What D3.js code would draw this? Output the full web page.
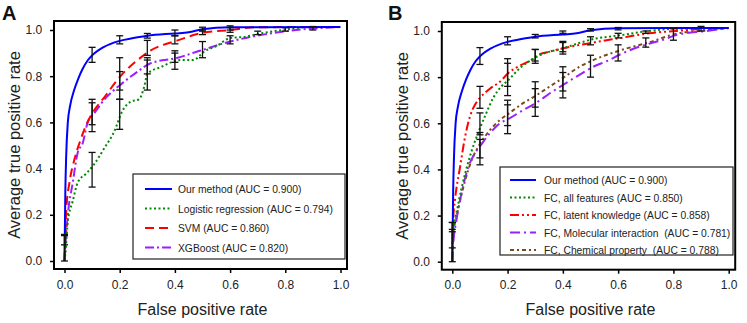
<!DOCTYPE html>
<html>
<head>
<meta charset="utf-8">
<script src="https://cdn.jsdelivr.net/npm/d3@7"></script>
<style>
  body { margin: 0; background: #fff; }
  text { font-family: "Liberation Sans", Arial, sans-serif; }
</style>
</head>
<body>
<div id="chart"></div>
<script>
// ---- data ----
var xTicks = [0, 0.2, 0.4, 0.6, 0.8, 1.0];
var yTicks = [0, 0.2, 0.4, 0.6, 0.8, 1.0];

// shared "Our method" curve
var ourX = [0, 0.003, 0.006, 0.012, 0.02, 0.035, 0.05, 0.065, 0.085, 0.1, 0.14, 0.2, 0.25, 0.3, 0.4, 0.45, 0.5, 0.6, 1.0];
var ourY = [0, 0.3, 0.45, 0.6, 0.67, 0.74, 0.79, 0.83, 0.87, 0.89, 0.925, 0.953, 0.965, 0.975, 0.985, 0.99, 1.003, 1.012, 1.013];

// panel A
var lrX = [0, 0.003, 0.012, 0.03, 0.048, 0.08, 0.108, 0.145, 0.18, 0.21, 0.24, 0.27, 0.29, 0.3, 0.35, 0.42, 0.466, 0.51, 0.55, 0.6, 0.65, 0.71, 0.79, 0.9, 1.0];
var lrY = [0, 0.03, 0.17, 0.26, 0.34, 0.38, 0.42, 0.49, 0.56, 0.65, 0.69, 0.70, 0.76, 0.81, 0.84, 0.87, 0.87, 0.91, 0.93, 0.965, 0.97, 0.985, 1.0, 1.013, 1.013];
var svmX = [0, 0.003, 0.007, 0.018, 0.036, 0.054, 0.072, 0.096, 0.145, 0.21, 0.265, 0.31, 0.41, 0.49, 0.6, 0.7, 1.0];
var svmY = [0, 0.12, 0.23, 0.34, 0.44, 0.51, 0.57, 0.63, 0.71, 0.81, 0.87, 0.91, 0.955, 0.985, 1.0, 1.012, 1.013];
var xgbX = [0, 0.005, 0.012, 0.03, 0.048, 0.066, 0.084, 0.108, 0.145, 0.21, 0.265, 0.31, 0.41, 0.49, 0.6, 0.72, 0.84, 1.0];
var xgbY = [0, 0.1, 0.2, 0.34, 0.47, 0.51, 0.6, 0.64, 0.70, 0.77, 0.82, 0.855, 0.88, 0.91, 0.95, 0.98, 1.0, 1.013];

// panel B
var allX = [0, 0.003, 0.02, 0.046, 0.07, 0.094, 0.118, 0.148, 0.178, 0.205, 0.245, 0.28, 0.317, 0.4, 0.51, 0.61, 0.71, 0.81, 1.0];
var allY = [0, 0.12, 0.24, 0.38, 0.48, 0.56, 0.63, 0.71, 0.76, 0.79, 0.84, 0.87, 0.895, 0.925, 0.965, 0.982, 1.0, 1.01, 1.013];
var latX = [0, 0.003, 0.01, 0.028, 0.046, 0.064, 0.082, 0.1, 0.136, 0.172, 0.205, 0.245, 0.28, 0.317, 0.35, 0.4, 0.51, 0.61, 0.71, 0.81, 0.92, 1.0];
var latY = [0, 0.18, 0.27, 0.41, 0.54, 0.63, 0.68, 0.71, 0.75, 0.78, 0.82, 0.85, 0.87, 0.90, 0.91, 0.925, 0.95, 0.97, 0.99, 1.0, 1.01, 1.013];
var molX = [0, 0.003, 0.015, 0.034, 0.058, 0.082, 0.106, 0.136, 0.172, 0.205, 0.256, 0.305, 0.353, 0.4, 0.46, 0.51, 0.56, 0.61, 0.66, 0.71, 0.77, 0.81, 0.92, 1.0];
var molY = [0, 0.07, 0.18, 0.30, 0.41, 0.47, 0.51, 0.557, 0.60, 0.62, 0.657, 0.69, 0.73, 0.766, 0.81, 0.845, 0.87, 0.90, 0.925, 0.944, 0.965, 0.983, 1.0, 1.013];
var chemX = [0, 0.003, 0.02, 0.046, 0.07, 0.1, 0.136, 0.172, 0.205, 0.256, 0.305, 0.353, 0.4, 0.46, 0.51, 0.61, 0.71, 0.81, 0.92, 1.0];
var chemY = [0, 0.11, 0.22, 0.35, 0.44, 0.51, 0.57, 0.614, 0.643, 0.687, 0.722, 0.76, 0.796, 0.845, 0.874, 0.917, 0.95, 0.988, 1.003, 1.013];

// error bars: [x, low, high]
var errA = [
  [0, 0, 0.11], [0, 0.07, 0.115],
  [0.1, 0.86, 0.925], [0.1, 0.59, 0.70], [0.1, 0.56, 0.685], [0.1, 0.32, 0.47],
  [0.2, 0.94, 0.975], [0.2, 0.74, 0.88], [0.2, 0.70, 0.82], [0.2, 0.57, 0.70],
  [0.3, 0.965, 0.985], [0.3, 0.89, 0.955], [0.3, 0.81, 0.88], [0.3, 0.74, 0.87],
  [0.4, 0.975, 1.0], [0.4, 0.94, 0.975], [0.4, 0.86, 0.91], [0.4, 0.83, 0.90],
  [0.5, 0.995, 1.012], [0.5, 0.98, 1.0], [0.5, 0.88, 0.95],
  [0.6, 1.0, 1.018], [0.6, 0.99, 1.01], [0.6, 0.94, 0.975],
  [0.7, 0.98, 0.995], [0.8, 0.995, 1.01], [0.9, 1.0, 1.015]
];
var errB = [
  [0, 0, 0.17], [0, 0.06, 0.14], [0, 0.13, 0.17],
  [0.1, 0.855, 0.928], [0.1, 0.665, 0.76], [0.1, 0.55, 0.645], [0.1, 0.45, 0.56], [0.1, 0.42, 0.53],
  [0.2, 0.94, 0.975], [0.2, 0.76, 0.88], [0.2, 0.72, 0.86], [0.2, 0.59, 0.70], [0.2, 0.555, 0.68],
  [0.3, 0.97, 0.985], [0.3, 0.87, 0.92], [0.3, 0.86, 0.92], [0.3, 0.67, 0.78], [0.3, 0.63, 0.75],
  [0.4, 0.99, 1.0], [0.4, 0.91, 0.955], [0.4, 0.90, 0.95], [0.4, 0.74, 0.845], [0.4, 0.71, 0.82],
  [0.5, 1.0, 1.01], [0.5, 0.94, 0.975], [0.5, 0.80, 0.895],
  [0.6, 1.005, 1.015], [0.6, 0.97, 0.99], [0.6, 0.87, 0.94],
  [0.7, 0.93, 0.97], [0.7, 0.99, 1.0], [0.8, 0.96, 1.01], [0.9, 1.0, 1.02]
];

var legendA = ["Our method (AUC = 0.900)", "Logistic regression (AUC = 0.794)", "SVM (AUC = 0.860)", "XGBoost (AUC = 0.820)"];
var legendB = ["Our method (AUC = 0.900)", "FC, all features (AUC = 0.850)", "FC, latent knowledge (AUC = 0.858)",
               "FC, Molecular interaction  (AUC = 0.781)", "FC, Chemical property  (AUC = 0.788)"];

// ---- drawing ----
var W = 747, H = 323;
var svg = d3.select("#chart").append("svg")
  .attr("width", W).attr("height", H);

var blue = "#0000ff", green = "#008a00", red = "#ff0000", purple = "#9a1fff", brown = "#7a4a1c";

function zip(xs, ys) { return xs.map(function(x, i) { return [x, ys[i]]; }); }

function drawPanel(p) {
  var g = svg.append("g");
  var x = d3.scaleLinear().domain([0, 1]).range([p.x0, p.x1]);
  var y = d3.scaleLinear().domain([0, 1]).range([p.y0, p.y1]);

  var fl = p.x0 - 10.5, fr = p.x1 + 6.5, ft = p.y1 - 9, fb = p.y0 + 8;

  // axes
  g.append("g")
    .attr("transform", "translate(0," + fb + ")")
    .call(d3.axisBottom(x).tickValues(xTicks).tickFormat(d3.format(".1f")).tickSize(4).tickSizeOuter(0))
    .call(function(a) {
      a.select(".domain").remove();
      a.selectAll("line").attr("stroke", "#000").attr("stroke-width", 1.5);
      a.selectAll("text").attr("font-size", 12).attr("fill", "#222").attr("dy", "1.05em");
    });
  g.append("g")
    .attr("transform", "translate(" + fl + ",0)")
    .call(d3.axisLeft(y).tickValues(yTicks).tickFormat(d3.format(".1f")).tickSize(4).tickSizeOuter(0))
    .call(function(a) {
      a.select(".domain").remove();
      a.selectAll("line").attr("stroke", "#000").attr("stroke-width", 1.5);
      a.selectAll("text").attr("font-size", 12).attr("fill", "#222").attr("dx", "-0.4em");
    });

  var line = d3.line()
    .x(function(d) { return x(d[0]); })
    .y(function(d) { return y(d[1]); })
    .curve(d3.curveMonotoneX);

  // curves, back to front
  p.series.slice().reverse().forEach(function(s) {
    g.append("path")
      .datum(zip(s.xs, s.ys))
      .attr("d", line)
      .attr("fill", "none")
      .attr("stroke", s.color)
      .attr("stroke-width", 2)
      .attr("stroke-dasharray", s.dash);
  });

  // error bars
  var eb = g.append("g").attr("stroke", "#111").attr("stroke-width", 1.3);
  p.err.forEach(function(e) {
    var cx = x(e[0]), ylo = y(e[1]), yhi = y(e[2]);
    eb.append("line").attr("x1", cx).attr("x2", cx).attr("y1", ylo).attr("y2", yhi);
    eb.append("line").attr("x1", cx - 3.5).attr("x2", cx + 3.5).attr("y1", ylo).attr("y2", ylo);
    eb.append("line").attr("x1", cx - 3.5).attr("x2", cx + 3.5).attr("y1", yhi).attr("y2", yhi);
  });

  // frame
  g.append("rect")
    .attr("x", fl).attr("y", ft).attr("width", fr - fl).attr("height", fb - ft)
    .attr("fill", "none").attr("stroke", "#000").attr("stroke-width", 2);

  // legend
  var lg = g.append("g");
  lg.append("rect")
    .attr("x", p.leg.x).attr("y", p.leg.y).attr("width", p.leg.w).attr("height", p.leg.h)
    .attr("fill", "#fff").attr("stroke", "#222").attr("stroke-width", 1.2);
  p.series.forEach(function(s, i) {
    var ly = p.leg.y + p.leg.first + i * p.leg.step;
    lg.append("line")
      .attr("x1", p.leg.x + p.leg.lx0).attr("x2", p.leg.x + p.leg.lx1)
      .attr("y1", ly).attr("y2", ly)
      .attr("stroke", s.color).attr("stroke-width", 2).attr("stroke-dasharray", s.dash);
    lg.append("text")
      .attr("x", p.leg.x + p.leg.tx).attr("y", ly + 4)
      .attr("font-size", 10.3).attr("fill", "#222")
      .style("white-space", "pre")
      .text(p.labels[i]);
  });

  // axis titles
  g.append("text")
    .attr("x", (p.x0 + p.x1) / 2).attr("y", 315)
    .attr("text-anchor", "middle").attr("font-size", 16).attr("fill", "#222")
    .text("False positive rate");
  g.append("text")
    .attr("transform", "translate(" + (fl - 34) + "," + ((fb + ft) / 2) + ") rotate(-90)")
    .attr("text-anchor", "middle").attr("font-size", 16.5).attr("fill", "#222")
    .text("Average true positive rate");

  // panel letter
  g.append("text")
    .attr("x", p.letterX).attr("y", 20)
    .attr("font-size", 20).attr("font-weight", "bold").attr("fill", "#111")
    .text(p.letter);
}

drawPanel({
  letter: "A", letterX: 2,
  x0: 64.5, x1: 340.5, y0: 261, y1: 30,
  series: [
    { xs: ourX, ys: ourY, color: blue, dash: null },
    { xs: lrX, ys: lrY, color: green, dash: "2,2.5" },
    { xs: svmX, ys: svmY, color: red, dash: "9,5" },
    { xs: xgbX, ys: xgbY, color: purple, dash: "9,3,2,3" }
  ],
  labels: legendA,
  err: errA,
  leg: { x: 133, y: 174, w: 212, h: 85, first: 15, step: 19.5, lx0: 12, lx1: 39, tx: 45 }
});

drawPanel({
  letter: "B", letterX: 388,
  x0: 452.3, x1: 728.7, y0: 261.7, y1: 31,
  series: [
    { xs: ourX, ys: ourY, color: blue, dash: null },
    { xs: allX, ys: allY, color: green, dash: "2,2.5" },
    { xs: latX, ys: latY, color: red, dash: "9,3,2,3,2,3" },
    { xs: molX, ys: molY, color: purple, dash: "10,4,2,4" },
    { xs: chemX, ys: chemY, color: brown, dash: "4,3,2,3" }
  ],
  labels: legendB,
  err: errB,
  leg: { x: 500, y: 167, w: 233, h: 88, first: 13, step: 17.5, lx0: 10, lx1: 36, tx: 44 }
});
</script>
</body>
</html>
